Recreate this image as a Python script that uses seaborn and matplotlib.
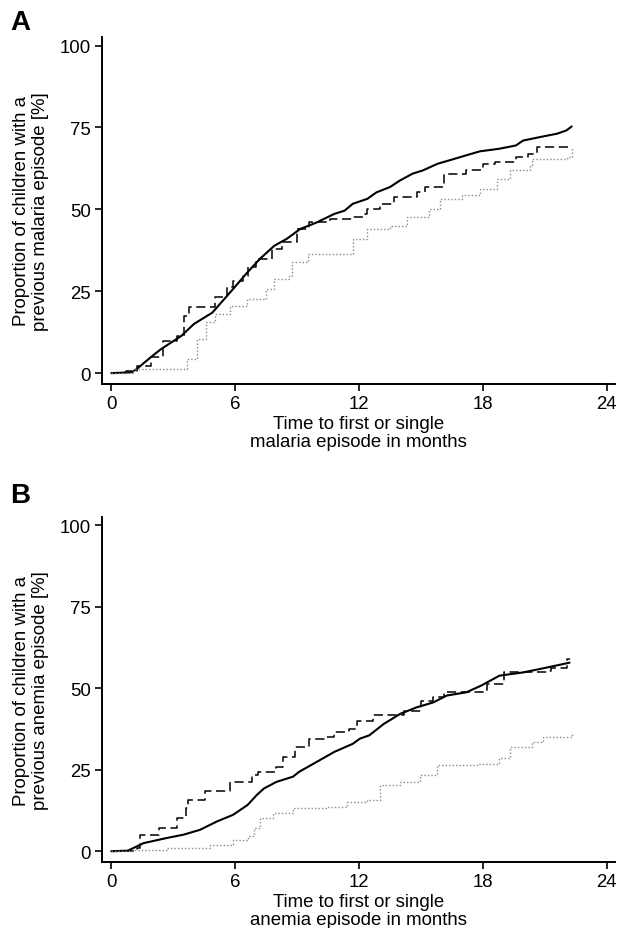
import numpy as np
import pandas as pd
import matplotlib
matplotlib.use('Agg')
import matplotlib.pyplot as plt
import seaborn as sns

# Panel A: malaria (months, cumulative %)
mal_solid_t = [0, 1.0, 1.24, 1.9, 2.4, 3.4, 4.0, 4.9, 5.9, 6.6, 7.2, 7.9, 8.5, 9.15, 9.95, 10.8, 11.3, 11.7,
               12.4, 12.85, 13.5, 13.98, 14.6, 15.1, 15.8, 16.4, 17.2, 17.85, 18.8, 19.6, 19.95, 20.8, 21.6, 22.05, 22.3]
mal_solid_v = [0, 0.3, 1.3, 4.8, 7.3, 11.4, 15.0, 18.5, 25.7, 30.8, 34.9, 38.9, 41.0, 44.0, 46.0, 48.6, 49.6, 51.7,
               53.2, 55.2, 56.8, 58.8, 60.9, 61.9, 63.9, 65.0, 66.5, 67.7, 68.5, 69.5, 71.0, 72.1, 73.1, 74.1, 75.3]
mal_dash_t = [0, 0.7, 1.25, 1.9, 2.5, 3.2, 3.5, 3.75, 4.8, 5.0, 5.6, 5.9, 6.4, 6.6, 7.0, 7.8, 8.25, 9.0, 9.6,
              10.6, 11.7, 12.3, 12.4, 13.0, 13.7, 14.8, 15.2, 16.1, 17.2, 18.0, 18.6, 19.6, 20.2, 20.6, 22.3]
mal_dash_v = [0, 0.8, 2.2, 4.8, 9.9, 11.4, 17.5, 20.2, 20.2, 23.1, 26.2, 28.2, 29.8, 32.3, 34.9, 37.9, 40.0, 44.0, 46.0,
              47.1, 47.6, 48.6, 50.2, 51.7, 53.7, 55.2, 56.8, 60.9, 61.9, 63.9, 64.4, 66.0, 67.0, 69.0, 69.0]
mal_dot_t = [0, 1.1, 3.66, 4.15, 4.6, 5.0, 5.76, 6.56, 7.5, 7.9, 8.6, 8.75, 9.55, 10.9, 11.7, 12.4, 13.5, 14.3,
             15.4, 15.9, 17.0, 17.85, 18.7, 19.3, 20.3, 20.4, 22.05, 22.3]
mal_dot_v = [0, 1.3, 4.3, 10.4, 15.5, 18.0, 20.6, 22.6, 25.7, 28.8, 29.8, 33.9, 36.4, 36.4, 41.0, 44.0, 45.0, 47.6,
             50.2, 53.2, 54.3, 56.3, 59.4, 61.9, 63.4, 65.4, 66.0, 69.0]

# Panel B: anemia
ane_solid_t = [0, 0.8, 1.24, 1.56, 2.7, 3.5, 4.3, 5.1, 5.9, 6.6, 7.05, 7.4, 8.0, 8.8, 9.1, 9.8, 10.8, 11.7, 12.05,
               12.5, 13.2, 14.0, 14.8, 15.6, 16.25, 17.2, 17.9, 18.8, 19.95, 21.1, 22.2]
ane_solid_v = [0, 0.2, 1.5, 2.5, 4.1, 5.1, 6.6, 9.1, 11.2, 14.2, 17.3, 19.3, 21.3, 22.9, 24.4, 26.9, 30.5, 33.0, 34.6,
               35.6, 39.1, 42.2, 44.2, 45.7, 47.8, 48.8, 50.8, 53.9, 54.9, 56.4, 57.9]
ane_dash_t = [0, 1.24, 1.4, 2.3, 3.2, 3.6, 3.74, 4.55, 5.76, 6.8, 7.1, 8.0, 8.3, 8.9, 9.6, 10.4, 10.8, 11.5, 11.9,
              12.7, 14.2, 15.0, 15.6, 16.1, 18.2, 19.0, 21.1, 21.3, 22.05, 22.2]
ane_dash_v = [0, 1.0, 5.1, 7.1, 10.2, 13.2, 15.8, 18.5, 21.3, 23.4, 24.4, 25.9, 29.0, 32.0, 34.6, 35.1, 36.6, 37.6, 40.1,
              41.7, 43.2, 46.2, 47.3, 48.8, 51.3, 54.9, 55.4, 56.4, 58.9, 58.9]
ane_dot_t = [0, 1.1, 2.7, 4.8, 5.9, 6.6, 6.9, 7.2, 7.85, 8.8, 10.4, 11.4, 12.4, 13.0, 14.0, 14.95, 15.8, 17.7,
             18.8, 19.3, 20.4, 20.9, 22.3]
ane_dot_v = [0, 0.3, 1.0, 2.0, 3.6, 4.6, 7.1, 10.2, 11.7, 13.2, 13.7, 15.2, 15.8, 20.3, 21.3, 23.4, 26.4, 26.9,
             28.5, 32.0, 33.5, 35.0, 36.6]

x_ticks = [0, 6, 12, 18, 24]
y_ticks = [0, 25, 50, 75, 100]

sns.set_style('ticks')
plt.rcParams['font.family'] = ['Liberation Sans', 'DejaVu Sans']
plt.rcParams['font.size'] = 13.4
for key in ['text.color', 'axes.labelcolor', 'xtick.color', 'ytick.color', 'axes.edgecolor']:
    plt.rcParams[key] = 'black'

fig = plt.figure(figsize=(6.17, 9.29), dpi=100)
ax_a = fig.add_axes([0.1653, 0.5856, 0.8315, 0.3735])
ax_b = fig.add_axes([0.1653, 0.0710, 0.8315, 0.3714])

# solid curve has many small steps -> draw as a plain line
styles = [
    dict(color='black', linewidth=1.5, linestyle='-', drawstyle='default'),
    dict(color='black', linewidth=1.1, linestyle=(0, (6, 3)), drawstyle='steps-post'),
    dict(color='#8a8a8a', linewidth=1.0, linestyle=(0, (1, 1.5)), drawstyle='steps-post'),
]


def draw_panel(ax, series, ylabel, xlabel, letter, letter_y):
    for (t, v), st in zip(series, styles):
        df = pd.DataFrame({'t': t, 'v': v})
        sns.lineplot(data=df, x='t', y='v', ax=ax, **st)
    ax.set_xlim(-0.45, 24.4)
    ax.set_ylim(-3.3, 102.6)
    ax.set_xticks(x_ticks)
    ax.set_yticks(y_ticks)
    ax.tick_params(length=5, width=1.2, labelsize=13.4, pad=3)
    for s in ['left', 'bottom']:
        ax.spines[s].set_linewidth(1.4)
    ax.spines['top'].set_visible(False)
    ax.spines['right'].set_visible(False)
    ax.set_ylabel(ylabel, labelpad=8, linespacing=1.12)
    ax.set_xlabel(xlabel, labelpad=2, linespacing=1.12)
    fig.text(10 / 617, 1 - letter_y / 929, letter, fontsize=20, fontweight='bold', va='baseline', ha='left')


draw_panel(ax_a, [(mal_solid_t, mal_solid_v), (mal_dash_t, mal_dash_v), (mal_dot_t, mal_dot_v)],
           'Proportion of children with a\nprevious malaria episode [%]',
           'Time to first or single\nmalaria episode in months', 'A', 30)
draw_panel(ax_b, [(ane_solid_t, ane_solid_v), (ane_dash_t, ane_dash_v), (ane_dot_t, ane_dot_v)],
           'Proportion of children with a\nprevious anemia episode [%]',
           'Time to first or single\nanemia episode in months', 'B', 503)

fig.savefig('out.png', dpi=100)
